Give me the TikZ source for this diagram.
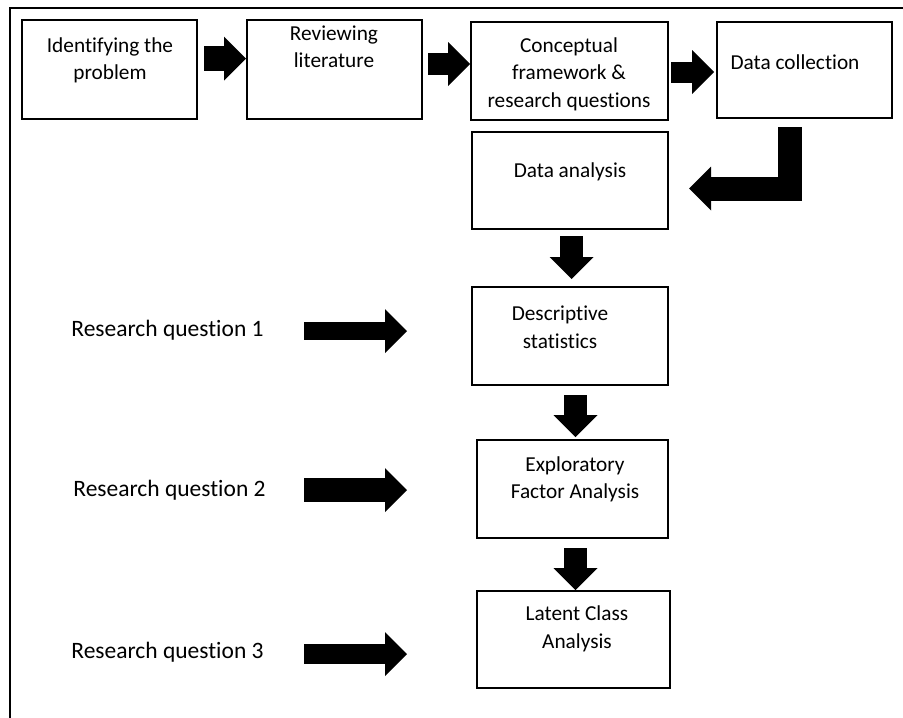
\documentclass[tikz,border=0pt]{standalone}
\usepackage{fontspec}
\setmainfont{Carlito}[Ligatures=NoCommon]
\usetikzlibrary{arrows.meta,calc}

\begin{document}
\begin{tikzpicture}[x=1pt,y=-1pt,
  box/.style 2 args={draw,line width=2pt,minimum width=#1,minimum height=#2,inner sep=0pt},
  txt/.style={align=center,inner sep=0pt,font=\fontsize{21.3}{27.5}\selectfont},
  rq/.style={inner sep=0pt,font=\fontsize{23.5}{28}\selectfont},
  fat/.style={line width=#1,-{Triangle[length=22pt,width=44pt,line width=0pt]}}]
\useasboundingbox (0,0) rectangle (903,718);
\draw[line width=2pt] (10,718) -- (10,8) -- (903,8);
% boxes
\node[box={175pt}{99pt}] (ident) at (109.5,69.5) {};
\node[box={175pt}{99pt}] (review) at (334.5,69.5) {};
\node[box={197pt}{98pt}] (concept) at (569.5,71) {};
\node[box={175pt}{96pt}] (collect) at (804.5,70) {};
\node[box={196pt}{97pt}] (analysis) at (570,180.5) {};
\node[box={196pt}{98pt}] (descr) at (570,336) {};
\node[box={191pt}{98pt}] (efa) at (572.5,489) {};
\node[box={193pt}{97pt}] (lca) at (573.5,639.5) {};
% box texts
\node[txt] (identT) at (110,60.5) {Identifying the\\problem};
\node[txt] (reviewT) at (334,46.5) {Reviewing\\literature};
\node[txt] (conceptT) at (569,74) {Conceptual\\framework \&\\research questions};
\node[txt] (collectT) at (795,62) {Data collection};
\node[txt] (analysisT) at (570,172) {Data analysis};
\node[txt] (descrT) at (560,327) {Descriptive\\statistics};
\node[txt] (efaT) at (575,479.5) {Exploratory\\Factor Analysis};
\node[txt] (lcaT) at (577,629) {Latent Class\\Analysis};
% research questions
\node[rq] (rq1) at (167.5,330) {Research question 1};
\node[rq] (rq2) at (169.5,490) {Research question 2};
\node[rq] (rq3) at (167.5,652) {Research question 3};
\coordinate (q1a) at (304,331);
\coordinate (q1b) at (407,331);
\coordinate (q2a) at (304,490);
\coordinate (q2b) at (407,490);
\coordinate (q3a) at (304,654);
\coordinate (q3b) at (407,654);
% arrows
\draw[fat=25pt] ($(ident.east)+(6,-11)$) -- ($(review.west)+(0,-11)$);
\draw[fat=22pt] ($(review.east)+(5,-5.5)$) -- ($(concept.west)+(0,-7)$);
\draw[fat=21pt] ($(concept.east)+(2,1)$) -- ($(collect.west)+(-2,2)$);
\draw[fat=24pt] ($(collect.south)+(-14.5,8)$) |- ($(analysis.east)+(20,8)$);
\draw[fat=23pt] ($(analysis.south)+(1.5,6)$) -- ($(descr.north)+(1.5,-7)$);
\draw[fat=23pt] ($(descr.south)+(5.5,9)$) -- ($(efa.north)+(3,-2)$);
\draw[fat=23pt] ($(efa.south)+(3,9)$) -- ($(lca.north)+(2,0)$);
\draw[fat=18pt] (q1a) -- (q1b);
\draw[fat=24pt] (q2a) -- (q2b);
\draw[fat=20pt] (q3a) -- (q3b);
\end{tikzpicture}
\end{document}
